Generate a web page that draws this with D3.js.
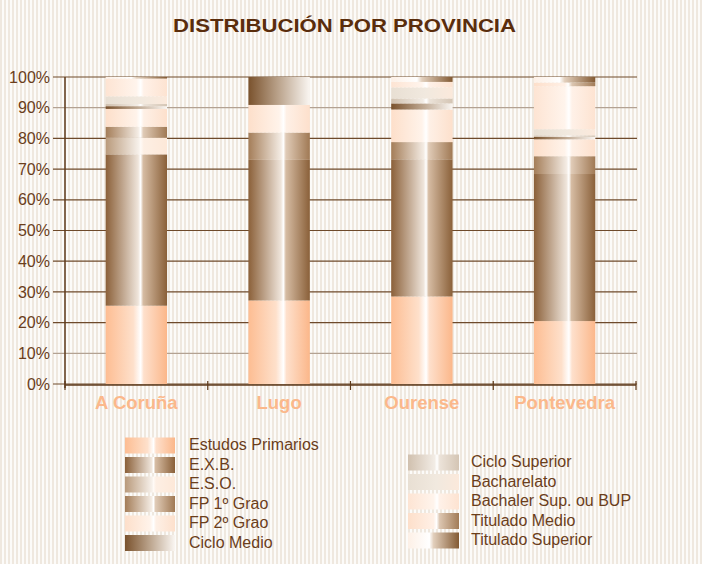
<!DOCTYPE html>
<html><head><meta charset="utf-8">
<script src="https://cdn.jsdelivr.net/npm/d3@7"></script>
<style>
html,body{margin:0;padding:0;background:#fcfbf9;}
svg{display:block;}
</style></head>
<body>
<svg id="chart" width="702" height="564"></svg>
<script>
// ---- data ----
const categories = ["A Coruña", "Lugo", "Ourense", "Pontevedra"];
const seriesNames = ["Estudos Primarios", "E.X.B.", "E.S.O.", "FP 1º Grao", "FP 2º Grao", "Ciclo Medio",
  "Ciclo Superior", "Bacharelato", "Bachaler Sup. ou BUP", "Titulado Medio", "Titulado Superior"];
const estudosPrimarios = [25.5, 27.2, 28.5, 20.5];
const exb             = [49.3, 45.8, 44.7, 47.9];
const eso             = [5.4, 0, 0, 0];
const fp1             = [3.6, 8.9, 5.6, 5.8];
const fp2             = [5.8, 9.0, 10.6, 5.5];
const cicloMedio      = [0.9, 9.1, 2.0, 0.8];
const cicloSuperior   = [0.7, 0, 1.6, 0.5];
const bacharelato     = [2.5, 0, 3.6, 2.0];
const bup             = [5.8, 0, 1.8, 14.0];
const tituladoMedio   = [0, 0, 0, 1.2];
const tituladoSuperior= [0.5, 0, 1.6, 1.8];
const yTicks = [0, 10, 20, 30, 40, 50, 60, 70, 80, 90, 100];
const title = "DISTRIBUCIÓN POR PROVINCIA";

const seriesValues = [estudosPrimarios, exb, eso, fp1, fp2, cicloMedio, cicloSuperior, bacharelato, bup, tituladoMedio, tituladoSuperior];

// gradient styles per series (horizontal cylinder-like shading)
const gradStops = [
  [[0,"#fdbd92"],[0.45,"#fee0cb"],[0.57,"#ffffff"],[0.62,"#fee0cc"],[1,"#fbb78a"]],
  [[0,"#8b6039"],[0.53,"#efe5db"],[0.57,"#ffffff"],[0.61,"#d6bca3"],[1,"#8a6039"]],
  [[0,"#b99a7b"],[0.54,"#f7f1eb"],[0.57,"#fffaf6"],[0.62,"#fdefe4"],[1,"#fde8d8"]],
  [[0,"#a47d58"],[0.53,"#f4ece4"],[0.57,"#ffffff"],[0.61,"#e0cbb7"],[1,"#a07954"]],
  [[0,"#fddfca"],[0.5,"#fff3ea"],[0.57,"#ffffff"],[0.62,"#fef0e6"],[1,"#fde0cc"]],
  [[0,"#7a522d"],[0.5,"#bca58e"],[1,"#faf6f2"]],
  [[0,"#d0c0ae"],[0.52,"#f2ece5"],[0.57,"#ffffff"],[0.62,"#ece3d9"],[1,"#d4c5b4"]],
  [[0,"#e8dfd3"],[0.55,"#f1e9df"],[1,"#fbe9db"]],
  [[0,"#fde4d3"],[0.5,"#fff4ec"],[0.57,"#ffffff"],[0.62,"#fff1e8"],[1,"#fde3d1"]],
  [[0,"#fddfca"],[0.5,"#fff0e6"],[0.56,"#ffffff"],[0.62,"#dcc6b1"],[1,"#a27c58"]],
  [[0,"#fdf0e6"],[0.42,"#ffffff"],[0.5,"#e2cfbc"],[1,"#835a33"]]
];

// ---- layout ----
const svg = d3.select("#chart");
const W = 702, H = 564;
const mLeft = 65, mRight = 636, mTop = 77, mBottom = 384;

const defs = svg.append("defs");
const pat = defs.append("pattern").attr("id","stripes").attr("patternUnits","userSpaceOnUse")
  .attr("width",4).attr("height",10);
pat.append("rect").attr("width",4).attr("height",10).attr("fill","#fcfbf9");
pat.append("rect").attr("width",2).attr("height",10).attr("fill","#efe8df");

gradStops.forEach((stops,i)=>{
  const g = defs.append("linearGradient").attr("id","g"+i).attr("x1","0").attr("x2","1").attr("y1","0").attr("y2","0");
  stops.forEach(s=>g.append("stop").attr("offset",s[0]).attr("stop-color",s[1]));
});

svg.append("rect").attr("width",W).attr("height",H).attr("fill","url(#stripes)");

// title
svg.append("text").attr("x",173).attr("y",32)
  .attr("textLength",343).attr("lengthAdjust","spacingAndGlyphs")
  .attr("font-family","Liberation Sans, Arial, sans-serif").attr("font-weight","bold")
  .attr("font-size",18.5).attr("fill","#5a2d0c").text(title);

const x = d3.scaleBand().domain(categories).range([mLeft,mRight]).paddingInner(0.57).paddingOuter(0.285);
const y = d3.scaleLinear().domain([0,100]).range([mBottom,mTop]);

// gridlines
const grid = svg.append("g");
yTicks.forEach(t=>{
  grid.append("line").attr("x1",53).attr("x2",637).attr("y1",y(t)).attr("y2",y(t))
    .attr("stroke", (t===90||t===10) ? "#b3a293" : "#6e4a2b").attr("stroke-width",1.2);
});

// bars
const table = categories.map((c,ci)=>{
  const o = {cat:c};
  seriesNames.forEach((s,si)=>o[s]=seriesValues[si][ci]);
  return o;
});
const stack = d3.stack().keys(seriesNames)(table);
const barsG = svg.append("g");
stack.forEach((layer,si)=>{
  barsG.selectAll(null).data(layer.filter(d=>d[1]-d[0]>0)).enter().append("rect")
    .attr("x",d=>x(d.data.cat)).attr("width",x.bandwidth())
    .attr("y",d=>y(d[1])).attr("height",d=>y(d[0])-y(d[1]))
    .attr("fill","url(#g"+si+")");
});

// y axis
const yAxis = d3.axisLeft(y).tickValues(yTicks).tickFormat(d=>d+"%").tickSize(0).tickPadding(15);
const ya = svg.append("g").attr("transform",`translate(${mLeft},0)`).call(yAxis);
ya.select(".domain").remove();
ya.selectAll("text").attr("font-family","Liberation Sans, Arial, sans-serif").attr("font-size",16)
  .attr("fill","#6b3e1b");
svg.append("line").attr("x1",mLeft).attr("x2",mLeft).attr("y1",mTop).attr("y2",mBottom+4)
  .attr("stroke","#5e3a1b").attr("stroke-width",1.5);

// x axis
svg.append("line").attr("x1",mLeft).attr("x2",mRight).attr("y1",mBottom+1).attr("y2",mBottom+1)
  .attr("stroke","#5e3a1b").attr("stroke-width",1.5);
const boundaries = d3.range(categories.length+1).map(i=>mLeft + i*(mRight-mLeft)/categories.length);
boundaries.forEach(b=>{
  svg.append("line").attr("x1",b).attr("x2",b).attr("y1",mBottom-3).attr("y2",mBottom+6)
    .attr("stroke","#5e3a1b").attr("stroke-width",1.2);
});
svg.append("g").selectAll("text").data(categories).enter().append("text")
  .attr("x",d=>x(d)+x.bandwidth()/2).attr("y",409).attr("text-anchor","middle")
  .attr("font-family","Liberation Sans, Arial, sans-serif").attr("font-weight","bold")
  .attr("font-size",18.5).attr("fill","#fbb88b").text(d=>d);

// legend
const leg = svg.append("g");
seriesNames.forEach((s,i)=>{
  const col = i<6 ? 0 : 1;
  const row = i<6 ? i : i-6;
  const sx = col===0 ? 125 : 408;
  const sy = (col===0 ? 437.5 : 454.5) + row*19.5;
  const sw = col===0 ? 50 : 51;
  leg.append("rect").attr("x",sx).attr("y",sy).attr("width",sw).attr("height",16).attr("fill","url(#g"+i+")");
  leg.append("text").attr("x", col===0 ? 189 : 471).attr("y",sy+12.5)
    .attr("font-family","Liberation Sans, Arial, sans-serif").attr("font-size",16)
    .attr("fill","#6b3e1b").text(s);
});
</script>
</body></html>
